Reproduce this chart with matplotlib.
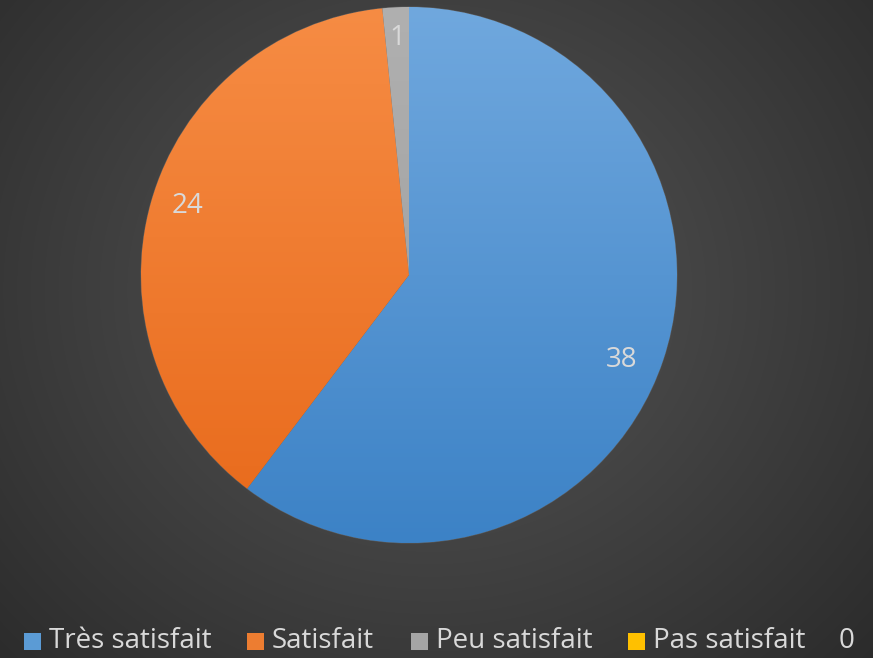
import numpy as np
import matplotlib
matplotlib.use("Agg")
import matplotlib.pyplot as plt
from matplotlib.colors import LinearSegmentedColormap, to_rgb
from matplotlib.patches import Rectangle

categories = ["Très satisfait", "Satisfait", "Peu satisfait", "Pas satisfait"]
values = [38, 24, 1, 0]
top_colors = ["#70a8de", "#f68c44", "#b0b0b0", "#ffd030"]
bottom_colors = ["#3c82c6", "#e8691a", "#9a9a9a", "#f0b800"]
legend_colors = ["#5b9bd5", "#ed7d31", "#a5a5a5", "#ffc000"]
label_color = "#d9d9d9"

plt.rcParams['font.family'] = ['Open Sans', 'DejaVu Sans']

W, H = 873, 658
fig = plt.figure(figsize=(W / 100, H / 100), dpi=100)

# radial gradient background
bg = fig.add_axes([0, 0, 1, 1])
yy, xx = np.mgrid[0:H, 0:W]
cx, cy = 430, 290
d = np.sqrt(((xx - cx) / 620.0) ** 2 + ((yy - cy) / 560.0) ** 2)
d = np.clip(d, 0, 1)
c_in = np.array(to_rgb("#575757"))
c_out = np.array(to_rgb("#2a2a2a"))
img = c_in[None, None, :] * (1 - d[..., None]) + c_out[None, None, :] * d[..., None]
bg.imshow(img, extent=[0, W, H, 0], aspect='auto')
bg.set_xlim(0, W)
bg.set_ylim(H, 0)
bg.axis('off')

# pie axes: center (409,275) px, radius 268 px
r = 268
pcx, pcy = 409, 275
ax = fig.add_axes([(pcx - r) / W, 1 - (pcy + r) / H, 2 * r / W, 2 * r / H])
wedges, texts = ax.pie(values, startangle=90, counterclock=False,
                       colors=legend_colors, radius=1.0,
                       wedgeprops=dict(linewidth=0.8, edgecolor="#5a5a5a"))
ax.set_aspect('equal')
ax.axis('off')

grad = np.linspace(0, 1, 256)[:, None]
for w, tc, bc in zip(wedges, top_colors, bottom_colors):
    cmap = LinearSegmentedColormap.from_list("g", [tc, bc])
    im = ax.imshow(np.repeat(grad, 2, axis=1), cmap=cmap, extent=[-1, 1, -1, 1],
                   origin='upper', aspect='auto', zorder=w.get_zorder() + 0.1)
    im.set_clip_path(w)
ax.set_xlim(-1, 1)
ax.set_ylim(-1, 1)

# data labels
total = sum(values)
label_r = [0.855, 0.867, 0.885]
label_dang = [-3.2, -1.6, 0.0]
start = 90.0
for i, v in enumerate(values):
    ang = start - 360.0 * v / total / 2
    start -= 360.0 * v / total
    if v == 0:
        continue
    a = np.radians(ang + label_dang[i])
    x = label_r[i] * np.cos(a)
    y = label_r[i] * np.sin(a)
    ax.text(x, y, str(v), color=label_color, fontsize=20, ha='center', va='center', zorder=10)

# legend (bottom row)
leg_x = [24, 247, 411, 628]
leg_y = 641
sq = 17
for xpx, c, name in zip(leg_x, legend_colors, categories):
    fig.patches.append(Rectangle((xpx / W, 1 - (leg_y + sq / 2) / H), sq / W, sq / H,
                                 facecolor=c, edgecolor='none', transform=fig.transFigure,
                                 figure=fig))
    fig.text((xpx + sq + 8) / W, 1 - leg_y / H, name, color=label_color, fontsize=20,
             ha='left', va='center')
fig.text(847 / W, 1 - leg_y / H, "0", color=label_color, fontsize=20, ha='center', va='center')

fig.savefig("out.png", dpi=100)
